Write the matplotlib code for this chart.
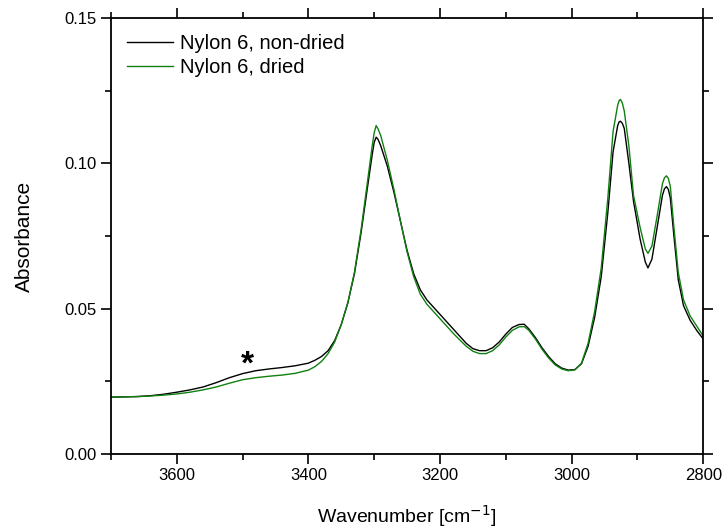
import matplotlib
matplotlib.use("Agg")
import matplotlib.pyplot as plt
from matplotlib.ticker import MultipleLocator

plt.rcParams['font.family'] = ['Liberation Sans', 'DejaVu Sans']

# wavenumber grid [cm-1]
wn = [3700, 3680, 3660, 3640, 3620, 3600, 3580, 3560, 3540, 3520, 3500, 3480, 3460, 3440,
      3420, 3400, 3390, 3380, 3370, 3360, 3350, 3340, 3330, 3320, 3310, 3303, 3300, 3297,
      3294, 3290, 3280, 3270, 3260, 3250, 3240, 3230, 3220, 3210, 3200, 3190, 3180, 3170,
      3160, 3150, 3140, 3130, 3120, 3110, 3100, 3090, 3080, 3072, 3065, 3055, 3045, 3035,
      3025, 3015, 3005, 2995, 2985, 2975, 2965, 2955, 2945, 2937, 2930, 2928, 2926, 2923,
      2920, 2913, 2906, 2896, 2888, 2884, 2878, 2870, 2862, 2859, 2856, 2853, 2850, 2845,
      2838, 2830, 2820, 2810, 2800]

# absorbance, non-dried
abs_nd = [0.0195, 0.0196, 0.0197, 0.0200, 0.0205, 0.0212, 0.0220, 0.0230, 0.0245, 0.0262,
          0.0276, 0.0286, 0.0292, 0.0297, 0.0303, 0.0312, 0.0322, 0.0335, 0.0355, 0.0390,
          0.0445, 0.0520, 0.0620, 0.0760, 0.0920, 0.1030, 0.1072, 0.1090, 0.1082, 0.1060,
          0.0990, 0.0900, 0.0800, 0.0700, 0.0620, 0.0565, 0.0530, 0.0505, 0.0480, 0.0455,
          0.0430, 0.0405, 0.0380, 0.0362, 0.0355, 0.0355, 0.0365, 0.0385, 0.0412, 0.0435,
          0.0445, 0.0446, 0.0430, 0.0400, 0.0365, 0.0335, 0.0310, 0.0295, 0.0288, 0.0290,
          0.0310, 0.0370, 0.0470, 0.0610, 0.0830, 0.1040, 0.1130, 0.1142, 0.1145, 0.1138,
          0.1120, 0.1000, 0.0870, 0.0740, 0.0660, 0.0640, 0.0670, 0.0780, 0.0890, 0.0912,
          0.0920, 0.0910, 0.0880, 0.0760, 0.0600, 0.0510, 0.0460, 0.0425, 0.0395]

# absorbance, dried
abs_d = [0.0195, 0.0196, 0.0197, 0.0199, 0.0202, 0.0206, 0.0212, 0.0220, 0.0230, 0.0243,
         0.0255, 0.0262, 0.0267, 0.0271, 0.0277, 0.0288, 0.0300, 0.0318, 0.0345, 0.0385,
         0.0445, 0.0520, 0.0625, 0.0770, 0.0940, 0.1060, 0.1105, 0.1130, 0.1118, 0.1095,
         0.1010, 0.0910, 0.0800, 0.0695, 0.0610, 0.0550, 0.0515, 0.0490, 0.0465, 0.0440,
         0.0415, 0.0392, 0.0370, 0.0353, 0.0345, 0.0345, 0.0355, 0.0375, 0.0402, 0.0425,
         0.0437, 0.0438, 0.0425, 0.0395, 0.0360, 0.0330, 0.0306, 0.0292, 0.0286, 0.0289,
         0.0312, 0.0380, 0.0490, 0.0640, 0.0880, 0.1110, 0.1200, 0.1215, 0.1220, 0.1208,
         0.1180, 0.1060, 0.0890, 0.0780, 0.0705, 0.0690, 0.0715, 0.0820, 0.0930, 0.0950,
         0.0957, 0.0948, 0.0920, 0.0790, 0.0625, 0.0530, 0.0475, 0.0440, 0.0405]

fig = plt.figure(figsize=(7.25, 5.32), dpi=100)
ax = fig.add_axes([0.153, 0.147, 0.817, 0.819])

ax.plot(wn, abs_nd, color='black', lw=1.0, label='Nylon 6, non-dried')
ax.plot(wn, abs_d, color='#108010', lw=1.0, label='Nylon 6, dried')

ax.text(3492, 0.0306, '*', fontsize=24, fontweight='bold', ha='center', va='center')

ax.set_xlim(3700, 2800)
ax.set_ylim(0, 0.15)
ax.xaxis.set_major_locator(MultipleLocator(200))
ax.xaxis.set_minor_locator(MultipleLocator(100))
ax.yaxis.set_major_locator(MultipleLocator(0.05))
ax.yaxis.set_minor_locator(MultipleLocator(0.025))
ax.yaxis.set_major_formatter(plt.FormatStrFormatter('%.2f'))
ax.tick_params(which='both', direction='out', top=True, right=True, labelsize=12, width=1.2)
ax.tick_params(which='major', length=7)
ax.tick_params(which='minor', length=4)
for s in ax.spines.values():
    s.set_linewidth(1.3)

ax.set_xlabel('Wavenumber [cm$^{-1}$]', fontsize=14, labelpad=14)
ax.set_ylabel('Absorbance', fontsize=15, labelpad=22)

ax.legend(loc='upper left', frameon=False, fontsize=14.5, handlelength=2.3,
          borderaxespad=0.5, borderpad=0.3, labelspacing=0.25, handletextpad=0.35)

fig.savefig('out.png', dpi=100)
